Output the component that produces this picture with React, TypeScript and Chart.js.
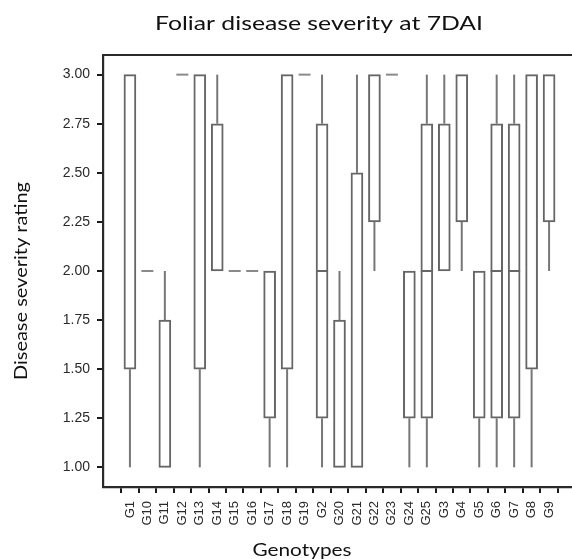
import React, { useEffect, useRef } from "react";
import { Chart, registerables } from "chart.js";

Chart.register(...registerables);

const genotypes = [
  "G1", "G10", "G11", "G12", "G13", "G14", "G15", "G16", "G17", "G18", "G19",
  "G2", "G20", "G21", "G22", "G23", "G24", "G25",
  "G3", "G4", "G5", "G6", "G7", "G8", "G9",
];
const minValues = [1, 2, 1, 3, 1, 2, 2, 2, 1, 1, 3, 1, 1, 1, 2, 3, 1, 1, 2, 2, 1, 1, 1, 1, 2];
const q1Values = [1.5, 2, 1, 3, 1.5, 2, 2, 2, 1.25, 1.5, 3, 1.25, 1, 1, 2.25, 3, 1.25, 1.25, 2, 2.25, 1.25, 1.25, 1.25, 1.5, 2.25];
const medianValues = [3, 2, 1, 3, 3, 2, 2, 2, 2, 3, 3, 2, 1, 1, 3, 3, 2, 2, 2, 3, 2, 2, 2, 3, 3];
const q3Values = [3, 2, 1.75, 3, 3, 2.75, 2, 2, 2, 3, 3, 2.75, 1.75, 2.5, 3, 3, 2, 2.75, 2.75, 3, 2, 2.75, 2.75, 3, 3];
const maxValues = [3, 2, 2, 3, 3, 3, 2, 2, 2, 3, 3, 3, 2, 3, 3, 3, 2, 3, 3, 3, 2, 3, 3, 3, 3];
const yTicks = [1.0, 1.25, 1.5, 1.75, 2.0, 2.25, 2.5, 2.75, 3.0];

const chartTitle = "Foliar disease severity at 7DAI";
const xTitle = "Genotypes";
const yTitle = "Disease severity rating";

const BOX_W = 12;

function drawFitText(
  ctx: CanvasRenderingContext2D,
  text: string,
  x: number,
  y: number,
  font: string,
  targetWidth: number,
  rotation: number
) {
  ctx.save();
  ctx.font = font;
  const w = ctx.measureText(text).width;
  const sx = targetWidth / w;
  ctx.translate(x, y);
  ctx.rotate(rotation);
  ctx.scale(sx, 1);
  ctx.textAlign = "center";
  ctx.textBaseline = "alphabetic";
  ctx.fillStyle = "#111111";
  ctx.fillText(text, 0, 0);
  ctx.restore();
}

const boxPlugin = {
  id: "boxExtras",
  afterDatasetsDraw(chart: any) {
    const ctx = chart.ctx as CanvasRenderingContext2D;
    const xs = chart.scales.x;
    const ys = chart.scales.y;
    ctx.save();
    ctx.lineCap = "butt";
    genotypes.forEach((_, i) => {
      const cx = xs.getPixelForValue(i + 1);
      const pMin = ys.getPixelForValue(minValues[i]);
      const pQ1 = ys.getPixelForValue(q1Values[i]);
      const pMed = ys.getPixelForValue(medianValues[i]);
      const pQ3 = ys.getPixelForValue(q3Values[i]);
      const pMax = ys.getPixelForValue(maxValues[i]);
      ctx.strokeStyle = "#777777";
      ctx.lineWidth = 2;
      if (maxValues[i] > q3Values[i]) {
        ctx.beginPath();
        ctx.moveTo(cx, pQ3);
        ctx.lineTo(cx, pMax);
        ctx.stroke();
      }
      if (minValues[i] < q1Values[i]) {
        ctx.beginPath();
        ctx.moveTo(cx, pQ1);
        ctx.lineTo(cx, pMin);
        ctx.stroke();
      }
      if (q1Values[i] === q3Values[i]) {
        ctx.strokeStyle = "#8a8a8a";
        ctx.lineWidth = 2;
        ctx.beginPath();
        ctx.moveTo(cx - BOX_W / 2, pQ1);
        ctx.lineTo(cx + BOX_W / 2, pQ1);
        ctx.stroke();
      } else if (medianValues[i] > q1Values[i] && medianValues[i] < q3Values[i]) {
        ctx.strokeStyle = "#666666";
        ctx.lineWidth = 2;
        ctx.beginPath();
        ctx.moveTo(cx - BOX_W / 2, pMed);
        ctx.lineTo(cx + BOX_W / 2, pMed);
        ctx.stroke();
      }
    });
    const a = chart.chartArea;
    ctx.strokeStyle = "#2a2a2a";
    ctx.lineWidth = 2.2;
    ctx.beginPath();
    ctx.moveTo(a.left - 1, a.top);
    ctx.lineTo(a.right, a.top);
    ctx.stroke();
    ctx.restore();
  },
  afterDraw(chart: any) {
    const ctx = chart.ctx as CanvasRenderingContext2D;
    drawFitText(ctx, chartTitle, 319, 29.5, "20px Lato", 328, 0);
    drawFitText(ctx, xTitle, 302, 556, "18px Lato", 99, 0);
    drawFitText(ctx, yTitle, 26.5, 281, "18px Lato", 198, -Math.PI / 2);
  },
};

export default function App() {
  const canvasRef = useRef<HTMLCanvasElement | null>(null);

  useEffect(() => {
    const canvas = canvasRef.current;
    if (!canvas) return;
    const boxData = genotypes
      .map((_, i) => ({ x: i + 1, y: [q1Values[i], q3Values[i]] }))
      .filter((d, i) => q3Values[i] > q1Values[i]);

    const chart = new Chart(canvas, {
      type: "bar",
      data: {
        datasets: [
          {
            data: boxData as any,
            backgroundColor: "#ffffff",
            borderColor: "#666666",
            borderWidth: 2,
            borderSkipped: false,
            barThickness: BOX_W,
          } as any,
        ],
      },
      options: {
        responsive: false,
        animation: false,
        devicePixelRatio: 1,
        layout: { padding: { top: 55, right: 14, left: 0, bottom: 0 } },
        plugins: {
          legend: { display: false },
          title: { display: false },
          tooltip: { enabled: false },
        },
        scales: {
          x: {
            type: "linear",
            min: 0,
            max: 26,
            afterBuildTicks: (scale: any) => {
              scale.ticks = genotypes.map((_, i) => ({ value: i + 1 }));
            },
            afterFit: (scale: any) => {
              scale.height = 72;
            },
            grid: {
              drawOnChartArea: false,
              drawTicks: true,
              tickLength: 6,
              color: "#1a1a1a",
              lineWidth: 2,
            },
            border: { display: true, color: "#2a2a2a", width: 2.2 },
            ticks: {
              autoSkip: false,
              minRotation: 90,
              maxRotation: 90,
              padding: 8,
              color: "#2a2a2a",
              font: { family: "'Liberation Sans', Arial, sans-serif", size: 13 },
              callback: (v: any) => genotypes[Math.round(Number(v)) - 1] ?? "",
            },
          },
          y: {
            type: "linear",
            min: 0.9,
            max: 3.1,
            afterBuildTicks: (scale: any) => {
              scale.ticks = yTicks.map((v) => ({ value: v }));
            },
            afterFit: (scale: any) => {
              scale.width = 103;
            },
            grid: {
              drawOnChartArea: false,
              drawTicks: true,
              tickLength: 6,
              color: "#1a1a1a",
              lineWidth: 2,
            },
            border: { display: true, color: "#2a2a2a", width: 2.2 },
            ticks: {
              padding: 7,
              color: "#2a2a2a",
              font: { family: "'Liberation Sans', Arial, sans-serif", size: 14 },
              callback: (v: any) => Number(v).toFixed(2),
            },
          },
        },
      },
      plugins: [boxPlugin],
    } as any);

    return () => chart.destroy();
  }, []);

  return (
    <div
      style={{
        position: "absolute",
        left: 0,
        top: 0,
        width: 572,
        height: 559,
        overflow: "hidden",
        background: "#ffffff",
      }}
    >
      <canvas
        ref={canvasRef}
        width={590}
        height={559}
        style={{ width: 590, height: 559, display: "block" }}
      />
    </div>
  );
}
